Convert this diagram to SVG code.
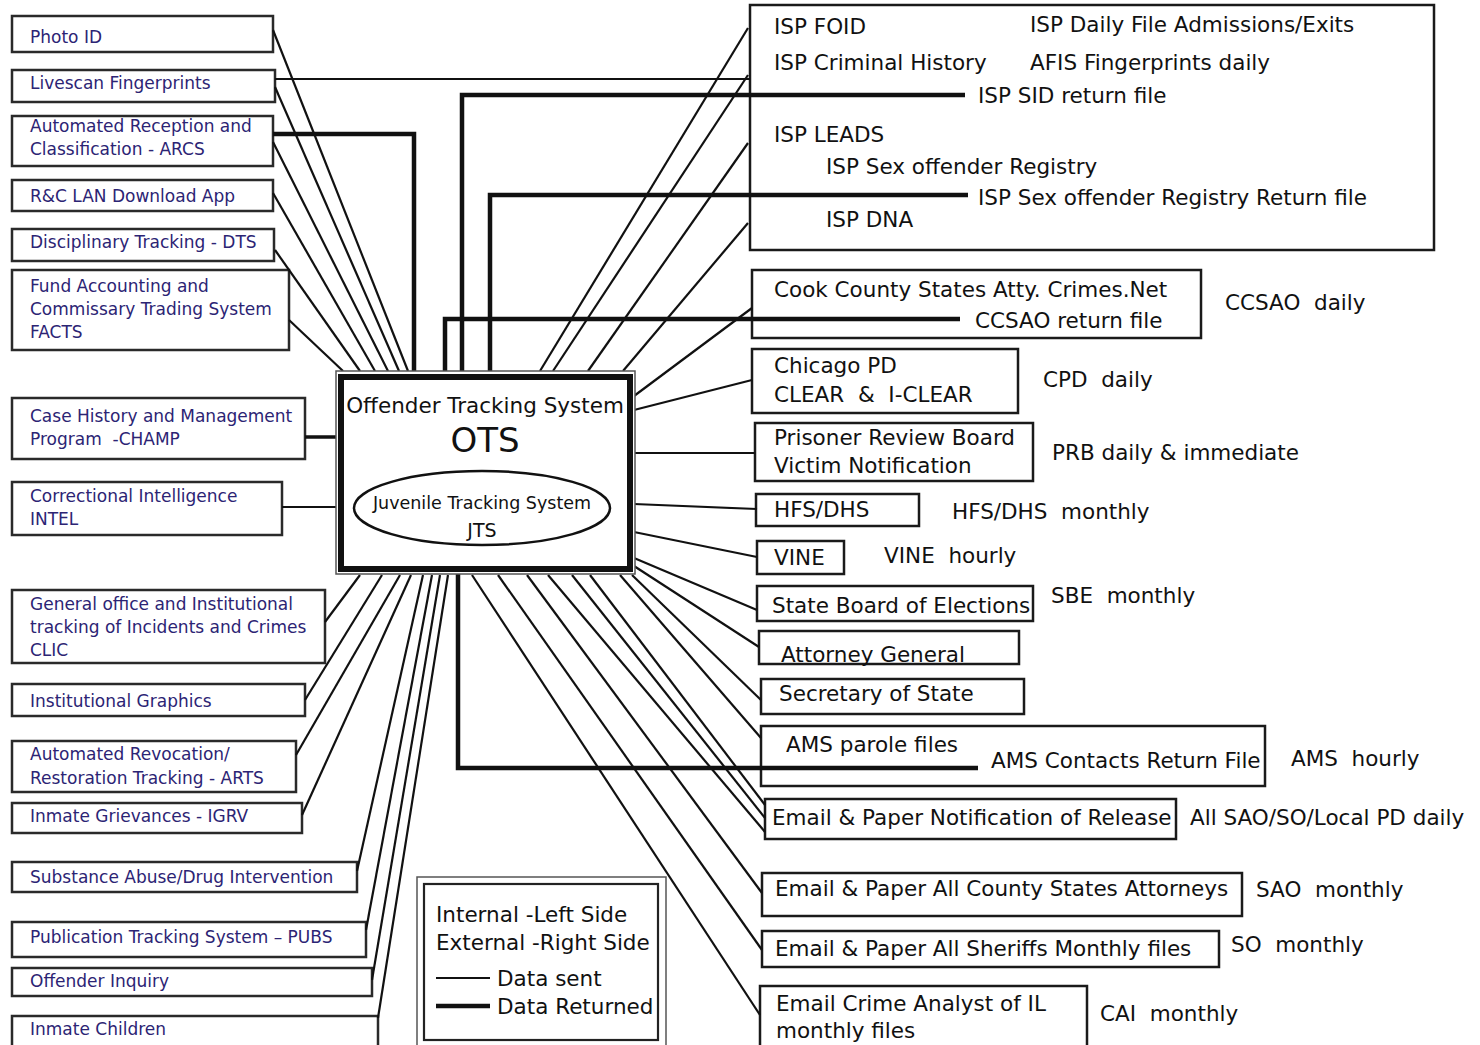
<svg xmlns="http://www.w3.org/2000/svg" width="1480" height="1045" viewBox="0 0 1480 1045">
<style>
.bg{fill:#fff}
.lb{fill:#fff;stroke:#2a2a2a;stroke-width:2.5}
.rb{fill:#fff;stroke:#1a1a1a;stroke-width:2.5}
.lt{font-family:"DejaVu Sans",Verdana,sans-serif;font-size:17px;fill:#2c2474;white-space:pre}
.rt{font-family:"DejaVu Sans",Verdana,sans-serif;font-size:21.5px;fill:#111;white-space:pre}
.ot{font-family:"DejaVu Sans",Verdana,sans-serif;fill:#111;text-anchor:middle}
.thin{stroke:#111;stroke-width:2.2;fill:none}
.thick{stroke:#111;stroke-width:4.5;fill:none}
</style>
<rect class="bg" x="0" y="0" width="1480" height="1045"/>

<g id="left-nodes">
<g id="n-photo"><rect class="lb" x="12" y="16" width="261" height="36"/><text class="lt" x="30" y="43">Photo ID</text></g>
<g id="n-livescan"><rect class="lb" x="12" y="70" width="263" height="32"/><text class="lt" x="30" y="89">Livescan Fingerprints</text></g>
<g id="n-arcs"><rect class="lb" x="12" y="116" width="261" height="50"/><text class="lt" x="30" y="132">Automated Reception and</text><text class="lt" x="30" y="155">Classification - ARCS</text></g>
<g id="n-rc"><rect class="lb" x="12" y="180" width="261" height="31"/><text class="lt" x="30" y="202">R&amp;C LAN Download App</text></g>
<g id="n-dts"><rect class="lb" x="12" y="229" width="262" height="32"/><text class="lt" x="30" y="248">Disciplinary Tracking - DTS</text></g>
<g id="n-facts"><rect class="lb" x="12" y="270" width="277" height="80"/><text class="lt" x="30" y="292">Fund Accounting and</text><text class="lt" x="30" y="315">Commissary Trading System</text><text class="lt" x="30" y="338">FACTS</text></g>
<g id="n-champ"><rect class="lb" x="12" y="398" width="293" height="61"/><text class="lt" x="30" y="422">Case History and Management</text><text class="lt" x="30" y="445">Program  -CHAMP</text></g>
<g id="n-intel"><rect class="lb" x="12" y="482" width="270" height="53"/><text class="lt" x="30" y="502">Correctional Intelligence</text><text class="lt" x="30" y="525">INTEL</text></g>
<g id="n-clic"><rect class="lb" x="12" y="590" width="313" height="73"/><text class="lt" x="30" y="610">General office and Institutional</text><text class="lt" x="30" y="633">tracking of Incidents and Crimes</text><text class="lt" x="30" y="656">CLIC</text></g>
<g id="n-graphics"><rect class="lb" x="12" y="684" width="293" height="32"/><text class="lt" x="30" y="707">Institutional Graphics</text></g>
<g id="n-arts"><rect class="lb" x="12" y="741" width="284" height="51"/><text class="lt" x="30" y="760">Automated Revocation/</text><text class="lt" x="30" y="784">Restoration Tracking - ARTS</text></g>
<g id="n-igrv"><rect class="lb" x="12" y="803" width="290" height="30"/><text class="lt" x="30" y="822">Inmate Grievances - IGRV</text></g>
<g id="n-drug"><rect class="lb" x="12" y="862" width="345" height="30"/><text class="lt" x="30" y="883">Substance Abuse/Drug Intervention</text></g>
<g id="n-pubs"><rect class="lb" x="12" y="922" width="354" height="35"/><text class="lt" x="30" y="943">Publication Tracking System – PUBS</text></g>
<g id="n-inquiry"><rect class="lb" x="12" y="968" width="360" height="28"/><text class="lt" x="30" y="987">Offender Inquiry</text></g>
<g id="n-children"><rect class="lb" x="12" y="1016" width="366" height="40"/><text class="lt" x="30" y="1035">Inmate Children</text></g>
</g>

<g id="right-nodes">
<g id="n-isp"><rect class="rb" x="750" y="5" width="684" height="245"/>
<text class="rt" x="774" y="34">ISP FOID</text>
<text class="rt" x="1030" y="32">ISP Daily File Admissions/Exits</text>
<text class="rt" x="774" y="70">ISP Criminal History</text>
<text class="rt" x="1030" y="70">AFIS Fingerprints daily</text>
<text class="rt" x="978" y="103">ISP SID return file</text>
<text class="rt" x="774" y="142">ISP LEADS</text>
<text class="rt" x="826" y="174">ISP Sex offender Registry</text>
<text class="rt" x="978" y="205">ISP Sex offender Registry Return file</text>
<text class="rt" x="826" y="227">ISP DNA</text></g>
<g id="n-ccsao"><rect class="rb" x="752" y="270" width="449" height="68"/>
<text class="rt" x="774" y="297">Cook County States Atty. Crimes.Net</text>
<text class="rt" x="975" y="328">CCSAO return file</text>
<text class="rt" x="1225" y="310">CCSAO  daily</text></g>
<g id="n-cpd"><rect class="rb" x="752" y="349" width="266" height="64"/>
<text class="rt" x="774" y="373">Chicago PD</text>
<text class="rt" x="774" y="402">CLEAR  &amp;  I-CLEAR</text>
<text class="rt" x="1043" y="387">CPD  daily</text></g>
<g id="n-prb"><rect class="rb" x="755" y="423" width="278" height="58"/>
<text class="rt" x="774" y="445">Prisoner Review Board</text>
<text class="rt" x="774" y="473">Victim Notification</text>
<text class="rt" x="1052" y="460">PRB daily &amp; immediate</text></g>
<g id="n-hfs"><rect class="rb" x="756" y="494" width="163" height="32"/>
<text class="rt" x="774" y="517">HFS/DHS</text>
<text class="rt" x="952" y="519">HFS/DHS  monthly</text></g>
<g id="n-vine"><rect class="rb" x="757" y="541" width="87" height="33"/>
<text class="rt" x="774" y="565">VINE</text>
<text class="rt" x="884" y="563">VINE  hourly</text></g>
<g id="n-sbe"><rect class="rb" x="757" y="586" width="276" height="35"/>
<text class="rt" x="772" y="613">State Board of Elections</text>
<text class="rt" x="1051" y="603">SBE  monthly</text></g>
<g id="n-ag"><rect class="rb" x="759" y="631" width="260" height="33"/>
<text class="rt" x="781" y="662">Attorney General</text></g>
<g id="n-sos"><rect class="rb" x="761" y="679" width="263" height="35"/>
<text class="rt" x="779" y="701">Secretary of State</text></g>
<g id="n-ams"><rect class="rb" x="761" y="726" width="504" height="60"/>
<text class="rt" x="786" y="752">AMS parole files</text>
<text class="rt" x="991" y="768">AMS Contacts Return File</text>
<text class="rt" x="1291" y="766">AMS  hourly</text></g>
<g id="n-release"><rect class="rb" x="765" y="799" width="411" height="40"/>
<text class="rt" x="772" y="825">Email &amp; Paper Notification of Release</text>
<text class="rt" x="1190" y="825">All SAO/SO/Local PD daily</text></g>
<g id="n-sao"><rect class="rb" x="762" y="873" width="480" height="43"/>
<text class="rt" x="775" y="896">Email &amp; Paper All County States Attorneys</text>
<text class="rt" x="1256" y="897">SAO  monthly</text></g>
<g id="n-so"><rect class="rb" x="762" y="931" width="457" height="36"/>
<text class="rt" x="775" y="956">Email &amp; Paper All Sheriffs Monthly files</text>
<text class="rt" x="1231" y="952">SO  monthly</text></g>
<g id="n-cai"><rect class="rb" x="760" y="986" width="327" height="70"/>
<text class="rt" x="776" y="1011">Email Crime Analyst of IL</text>
<text class="rt" x="776" y="1038">monthly files</text>
<text class="rt" x="1100" y="1021">CAI  monthly</text></g>
</g>

<g id="legend">
<rect x="417" y="877" width="249" height="180" fill="#fff" stroke="#555" stroke-width="1.5"/>
<rect x="424" y="884" width="234" height="156" fill="none" stroke="#222" stroke-width="2.2"/>
<text class="rt" x="436" y="922">Internal -Left Side</text>
<text class="rt" x="436" y="950">External -Right Side</text>
<line class="thin" x1="436" y1="978" x2="490" y2="978"/>
<text class="rt" x="497" y="986">Data sent</text>
<line class="thick" x1="436" y1="1006" x2="490" y2="1006"/>
<text class="rt" x="497" y="1014">Data Returned</text>
</g>

<g id="connectors">
<line class="thin" x1="273" y1="30" x2="408" y2="371"/>
<line class="thin" x1="275" y1="87" x2="399" y2="371"/>
<line class="thin" x1="273" y1="142" x2="388" y2="371"/>
<line class="thin" x1="273" y1="193" x2="375" y2="371"/>
<line class="thin" x1="275" y1="250" x2="360" y2="371"/>
<line class="thin" x1="289" y1="320" x2="343" y2="371"/>
<line class="thin" x1="275" y1="79" x2="750" y2="79"/>
<polyline class="thick" points="273,134 414,134 414,371"/>
<line stroke="#111" stroke-width="3.5" x1="305" y1="437" x2="336" y2="437"/>
<line class="thin" x1="282" y1="507" x2="336" y2="507"/>
<line class="thin" x1="325" y1="622" x2="360" y2="575"/>
<line class="thin" x1="305" y1="700" x2="382" y2="575"/>
<line class="thin" x1="296" y1="755" x2="400" y2="575"/>
<line class="thin" x1="302" y1="815" x2="411" y2="575"/>
<line class="thin" x1="357" y1="871" x2="423" y2="575"/>
<line class="thin" x1="366" y1="930" x2="432" y2="575"/>
<line class="thin" x1="372" y1="980" x2="440" y2="575"/>
<line class="thin" x1="378" y1="1018" x2="448" y2="575"/>
<line class="thin" x1="540" y1="371" x2="748" y2="28"/>
<line class="thin" x1="553" y1="371" x2="748" y2="75"/>
<line class="thin" x1="588" y1="371" x2="748" y2="143"/>
<line class="thin" x1="623" y1="371" x2="748" y2="223"/>
<polyline class="thick" points="462,371 462,95 965,95"/>
<polyline class="thick" points="490,371 490,195 968,195"/>
<polyline class="thick" points="445,371 445,319 960,319"/>
<line class="thin" x1="634" y1="396" x2="752" y2="308"/>
<line class="thin" x1="634" y1="410" x2="752" y2="380"/>
<line class="thin" x1="634" y1="453" x2="755" y2="453"/>
<line class="thin" x1="634" y1="504" x2="757" y2="509"/>
<line class="thin" x1="634" y1="532" x2="757" y2="557"/>
<line class="thin" x1="634" y1="558" x2="757" y2="610"/>
<line class="thin" x1="634" y1="566" x2="759" y2="647"/>
<line class="thin" x1="632" y1="575" x2="761" y2="700"/>
<line class="thin" x1="620" y1="575" x2="761" y2="738"/>
<line class="thin" x1="590" y1="575" x2="765" y2="805"/>
<line class="thin" x1="572" y1="575" x2="765" y2="818"/>
<line class="thin" x1="548" y1="575" x2="765" y2="832"/>
<line class="thin" x1="527" y1="575" x2="762" y2="893"/>
<line class="thin" x1="498" y1="575" x2="762" y2="950"/>
<line class="thin" x1="472" y1="575" x2="760" y2="1015"/>
<polyline class="thick" points="458,574 458,768 978,768"/>
</g>

<g id="n-ots">
<rect x="336" y="371" width="299" height="203" fill="#fff" stroke="#555" stroke-width="1.5"/>
<rect x="341" y="377" width="289" height="192" fill="#fff" stroke="#111" stroke-width="6"/>
<text class="ot" x="485" y="413" font-size="21.5">Offender Tracking System</text>
<text class="ot" x="485" y="452" font-size="34">OTS</text>
<ellipse cx="482" cy="508" rx="128" ry="37" fill="none" stroke="#111" stroke-width="2.5"/>
<text class="ot" x="482" y="509" font-size="17.5">Juvenile Tracking System</text>
<text class="ot" x="482" y="537" font-size="19">JTS</text>
</g>
</svg>
